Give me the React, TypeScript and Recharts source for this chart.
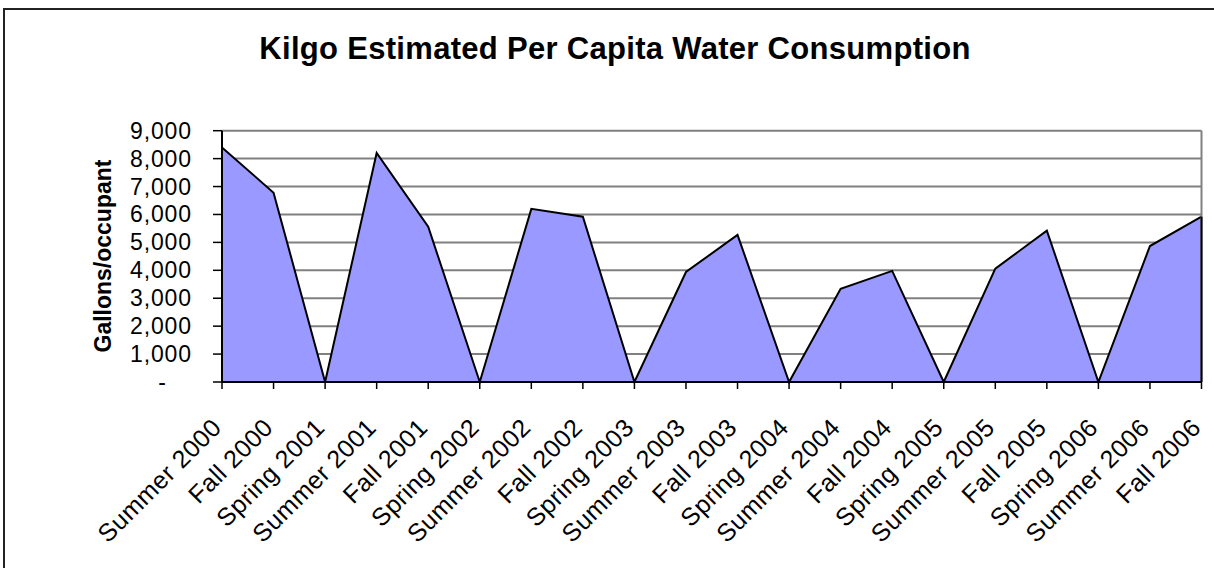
import React from "react";
import { AreaChart, Area, XAxis, YAxis, CartesianGrid, ReferenceLine } from "recharts";

const categories = [
  "Summer 2000", "Fall 2000", "Spring 2001", "Summer 2001", "Fall 2001",
  "Spring 2002", "Summer 2002", "Fall 2002", "Spring 2003", "Summer 2003",
  "Fall 2003", "Spring 2004", "Summer 2004", "Fall 2004", "Spring 2005",
  "Summer 2005", "Fall 2005", "Spring 2006", "Summer 2006", "Fall 2006",
];
const gallonsPerOccupant = [
  8400, 6780, 0, 8200, 5560, 0, 6200, 5920, 0, 3940,
  5270, 0, 3340, 3980, 0, 4060, 5420, 0, 4870, 5920,
];
const yTicks = [0, 1000, 2000, 3000, 4000, 5000, 6000, 7000, 8000, 9000];
const title = "Kilgo Estimated Per Capita Water Consumption";
const yTitle = "Gallons/occupant";

const data = categories.map((c, i) => ({ season: c, value: gallonsPerOccupant[i] }));
const FONT = "'Liberation Sans', Arial, sans-serif";

const fmt = (v: number) => (v === 0 ? "-" : v.toLocaleString("en-US"));

const YTick = (props: any) => {
  const { x, y, payload } = props;
  const v = payload.value as number;
  if (v === 0) {
    return (
      <text x={x - 30} y={y} dy={8} textAnchor="middle" fontFamily={FONT} fontSize={23} fill="#000">
        -
      </text>
    );
  }
  return (
    <text x={x} y={y} dy={8} textAnchor="end" fontFamily={FONT} fontSize={23} letterSpacing={0.9} fill="#000">
      {fmt(v)}
    </text>
  );
};

const XTick = (props: any) => {
  const { x, y, payload } = props;
  const px = x + 1;
  const py = y + 38;
  return (
    <text
      x={px}
      y={py}
      textAnchor="end"
      transform={`rotate(-45, ${px}, ${py})`}
      fontFamily={FONT}
      fontSize={25}
      letterSpacing={0.5}
      fill="#000"
    >
      {payload.value}
    </text>
  );
};

export default function App() {
  const last = categories[categories.length - 1];
  const lastVal = gallonsPerOccupant[gallonsPerOccupant.length - 1];
  return (
    <div style={{ position: "absolute", left: 0, top: 0, width: 1214, height: 568, overflow: "hidden", background: "#fff" }}>
      <div
        style={{
          position: "absolute",
          left: 3,
          top: 8,
          width: 1400,
          height: 800,
          borderTop: "2px solid #222",
          borderLeft: "2px solid #222",
        }}
      />
      <div style={{ position: "absolute", left: 0, top: 0 }}>
        <AreaChart
          width={1214}
          height={568}
          data={data}
          margin={{ top: 130.7, right: 12.5, bottom: 0, left: 122 }}
        >
          <CartesianGrid vertical={false} stroke="#808080" strokeWidth={2} />
          <ReferenceLine x={last} stroke="#808080" strokeWidth={2} />
          <XAxis
            dataKey="season"
            height={186}
            interval={0}
            tick={<XTick />}
            tickSize={7}
            stroke="#000"
            strokeWidth={2}
            tickLine={{ stroke: "#000", strokeWidth: 1.5 }}
          />
          <YAxis
            width={100}
            domain={[0, 9000]}
            ticks={yTicks}
            interval={0}
            tick={<YTick />}
            tickSize={9}
            tickMargin={21}
            stroke="#000"
            strokeWidth={2}
            tickLine={{ stroke: "#000", strokeWidth: 1.5 }}
          />
          <Area
            type="linear"
            dataKey="value"
            stroke="#000"
            strokeWidth={2}
            fill="#9999FF"
            fillOpacity={1}
            isAnimationActive={false}
            dot={false}
            activeDot={false}
          />
          <ReferenceLine
            segment={[{ x: last, y: 0 }, { x: last, y: lastVal }]}
            stroke="#000"
            strokeWidth={2}
          />
        </AreaChart>
      </div>
      <svg width={1214} height={568} style={{ position: "absolute", left: 0, top: 0, pointerEvents: "none" }}>
        <text x={615} y={59} textAnchor="middle" fontFamily={FONT} fontWeight="bold" fontSize={31} letterSpacing={0.3} fill="#000">
          {title}
        </text>
        <text
          x={111}
          y={256}
          textAnchor="middle"
          transform="rotate(-90, 111, 256)"
          fontFamily={FONT}
          fontWeight="bold"
          fontSize={23}
          fill="#000"
        >
          {yTitle}
        </text>
      </svg>
    </div>
  );
}
